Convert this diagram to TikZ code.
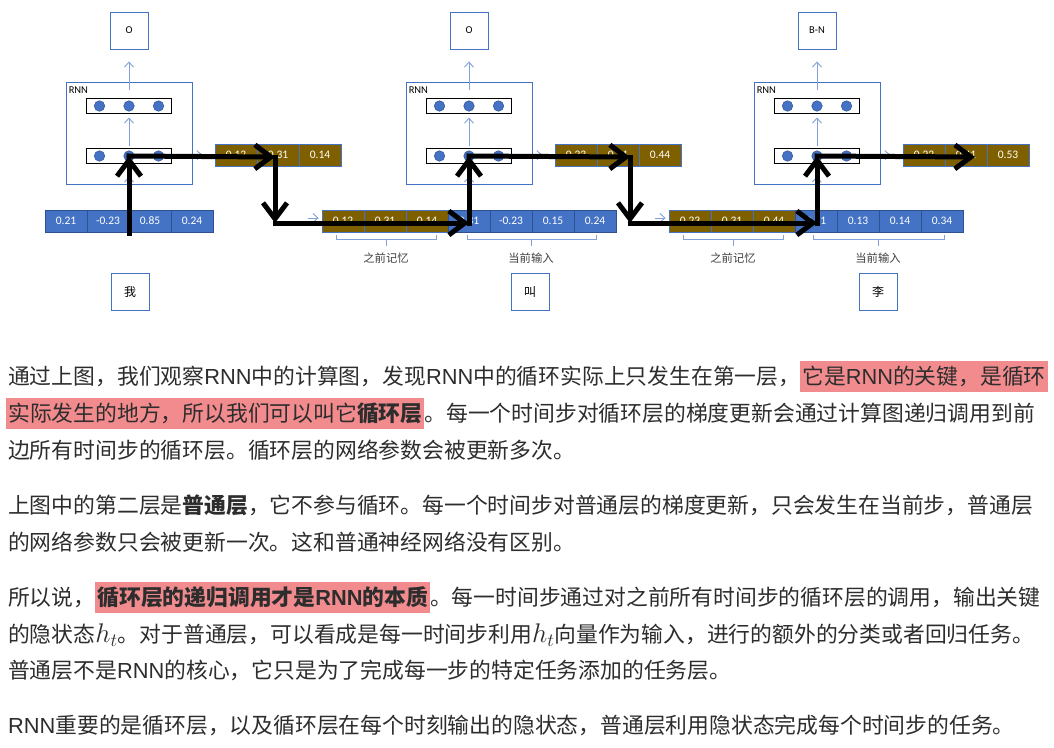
\documentclass[tikz,border=0pt]{standalone}
\usepackage{fontspec}
\setmainfont{Noto Sans CJK SC}
\newfontfamily\latfont{Liberation Sans}
\newfontfamily\figfont{Carlito}
\newfontfamily\figcjk{Noto Sans CJK SC}
\usetikzlibrary{
  arrows.meta, positioning, calc
}
\usepackage{xcolor}
\usepackage{graphicx}
\definecolor{OB}{RGB}{68,114,196}
\definecolor{DB}{RGB}{47,82,143}
\definecolor{LA}{RGB}{130,160,218}
\definecolor{GD}{RGB}{127,96,0}
\definecolor{HL}{RGB}{242,139,142}
\definecolor{TX}{RGB}{45,45,45}

\newcommand{\rnn}{{\latfont RNN}}
\newcommand{\hl}[1]{{\setlength{\fboxsep}{0pt}\colorbox{HL}{\rule[-7.5pt]{0pt}{31pt}\kern2pt#1\kern2pt}}}
\newcommand{\hstate}{\scalebox{1.3}{$h_t$}}

\begin{document}
\begin{tikzpicture}[x=1pt, y=-1pt,
  obox/.style={draw=OB, fill=white, line width=0.9pt, minimum width=38pt, minimum height=37pt, inner sep=0pt},
  rnnbox/.style={draw=OB, line width=0.9pt, minimum width=126pt, minimum height=102pt, inner sep=0pt},
  layerbox/.style={draw=black, line width=1pt, fill=white, minimum width=85pt, minimum height=15pt, inner sep=0pt},
  hdot/.style={circle, fill=OB, draw=DB, line width=0.5pt, minimum size=10.5pt, inner sep=0pt},
  cell/.style={minimum width=42pt, minimum height=22pt, inner sep=0pt, text=white, font=\figfont\fontsize{11.5}{12}\selectfont, line width=0.8pt},
  gcell/.style={cell, fill=GD, draw=OB},
  bcell/.style={cell, fill=OB, draw=DB},
  lbl/.style={font=\figcjk\fontsize{11.3}{12}\selectfont, text=black!75, inner sep=0pt},
  barrow/.style={LA, line width=0.9pt, -{Straight Barb[length=5pt,width=9pt]}},
  brk/.style={LA, line width=0.9pt},
  flow/.style={line width=5pt, line cap=rect, -{Straight Barb[length=16pt,width=24pt]}},
  para/.style={anchor=base west, inner sep=0pt, text=TX, font=\fontsize{21.8}{30}\selectfont}
]
\fill[white] (0,0) rectangle (1054,747);
\useasboundingbox (0,0) rectangle (1054,747);

% Vectors (input, memory, output)
\foreach \v [count=\i] in {0.21,-0.23,0.85,0.24}
  \node[bcell] (x1-\i) at ({45+42*\i-21},221) {\v};
\foreach \v [count=\i] in {0.12,0.31,0.14}
  \node[gcell] (h1-\i) at ({215+42*\i-21},155) {\v};
\foreach \v [count=\i] in {0.12,0.31,0.14}
  \node[gcell] (m2-\i) at ({322+42*\i-21},221) {\v};
\foreach \v [count=\i] in {0.31,-0.23,0.15,0.24}
  \node[bcell] (x2-\i) at ({448+42*\i-21},221) {\v};
\foreach \v [count=\i] in {0.23,0.31,0.44}
  \node[gcell] (h2-\i) at ({555+42*\i-21},155) {\v};
\foreach \v [count=\i] in {0.23,0.31,0.44}
  \node[gcell] (m3-\i) at ({669+42*\i-21},221) {\v};
\foreach \v [count=\i] in {0.21,0.13,0.14,0.34}
  \node[bcell] (x3-\i) at ({795+42*\i-21},221) {\v};
\foreach \v [count=\i] in {0.22,0.41,0.53}
  \node[gcell] (h3-\i) at ({903+42*\i-21},155) {\v};

% RNN cells, one per time step
\foreach \u/\cx/\lab in {1/129/O, 2/469/O, 3/817/B-N} {
  \node[obox, font=\figfont\fontsize{10.5}{12}\selectfont] (o\u) at (\cx,30.5) {\lab};
  \node[rnnbox] (rnn\u) at (\cx,133) {};
  \node[anchor=west, inner sep=0pt, font=\figfont\fontsize{10.5}{12}\selectfont] (rl\u)
    at ([xshift=3pt,yshift=-9pt]rnn\u.north west) {RNN};
  \node[layerbox] (top\u) at (\cx,105.5) {};
  \node[layerbox] (bot\u) at (\cx,156) {};
  \foreach \k/\n in {-1/a,0/b,1/c} {
    \node[hdot] (t\u\n) at ({\cx+29.5*\k},106) {};
    \node[hdot] (b\u\n) at ({\cx+29.5*\k},156) {};
  }
  \draw[barrow] ([yshift=-8pt]rnn\u.north) -- ([yshift=-12pt]o\u.south);
  \draw[barrow] ([yshift=2pt]bot\u.north) -- ([yshift=-4pt]top\u.south);
  \draw[barrow] (bot\u.east) -- ([xshift=-12pt]h\u-1.west);
}
\draw[barrow] (x1-2.north east) -- ([yshift=8pt]rnn1.south);
\draw[barrow] (x2-1.north) -- ([yshift=8pt]rnn2.south);
\draw[barrow] (x3-1.north) -- ([yshift=8pt]rnn3.south);
\draw[barrow] ([xshift=-14pt,yshift=3pt]m2-1.west) -- ([xshift=-3pt,yshift=3pt]m2-1.west);
\draw[barrow] ([xshift=-14pt,yshift=3pt]m3-1.west) -- ([xshift=-3pt,yshift=3pt]m3-1.west);

% Brackets under memory / input
\foreach \a/\b/\c/\t [count=\j] in {336/436/386/之前记忆, 467/596/531/当前输入, 683/783/733/之前记忆, 813/944/878/当前输入} {
  \draw[brk] (\a,235) -- (\a,239) -- (\b,239) -- (\b,235) (\c,239) -- (\c,246);
  \node[lbl] (bl\j) at (\c,258) {\t};
}

% Input words
\node[obox, font=\figcjk\fontsize{12}{12}\selectfont] (w1) at (130,292) {我};
\node[obox, font=\figcjk\fontsize{12}{12}\selectfont] (w2) at (530,292) {叫};
\node[obox, font=\figcjk\fontsize{12}{12}\selectfont] (w3) at (878,292) {李};

% Recurrent path
\coordinate (s1) at (129,233);
\coordinate (k1) at (275,157);
\coordinate (k2) at (275,223);
\coordinate (k3) at (469,223);
\coordinate (k5) at (630,157);
\coordinate (k6) at (630,223);
\coordinate (k7) at (817,223);
\coordinate (k9) at (975,157);
\draw[flow] (s1) -- (b1b.center);
\draw[flow] (b1b.center) -- (k1);
\draw[flow] (k1) -- (k2);
\draw[flow] (k2) -- (k3);
\draw[flow] (k3) -- (b2b.center);
\draw[flow] (b2b.center) -- (k5);
\draw[flow] (k5) -- (k6);
\draw[flow] (k6) -- (k7);
\draw[flow] (k7) -- (b3b.center);
\draw[flow] (b3b.center) -- (k9);

% Text below the figure
\node[para] (p1a) at (8,384) {通过上图，我们观察\rnn 中的计算图，发现\rnn 中的循环实际上只发生在第一层，\hl{它是\rnn 的关键，是循环}};
\node[para] (p1b) at (6,421) {\hl{实际发生的地方，所以我们可以叫它\textbf{循环层}}。每一个时间步对循环层的梯度更新会通过计算图递归调用到前};
\node[para] (p1c) at (8,458) {边所有时间步的循环层。循环层的网络参数会被更新多次。};
\node[para] (p2a) at (8,513) {上图中的第二层是\textbf{普通层}，它不参与循环。每一个时间步对普通层的梯度更新，只会发生在当前步，普通层};
\node[para] (p2b) at (8,550) {的网络参数只会被更新一次。这和普通神经网络没有区别。};
\node[para] (p3a) at (8,605) {所以说，\hl{\textbf{循环层的递归调用才是\rnn 的本质}}。每一时间步通过对之前所有时间步的循环层的调用，输出关键};
\node[para] (p3b) at (8,642) {的隐状态\hstate。对于普通层，可以看成是每一时间步利用\hstate 向量作为输入，进行的额外的分类或者回归任务。};
\node[para] (p3c) at (8,678) {普通层不是\rnn 的核心，它只是为了完成每一步的特定任务添加的任务层。};
\node[para] (p4a) at (8,733) {\rnn 重要的是循环层，以及循环层在每个时刻输出的隐状态，普通层利用隐状态完成每个时间步的任务。};
\end{tikzpicture}
\end{document}
